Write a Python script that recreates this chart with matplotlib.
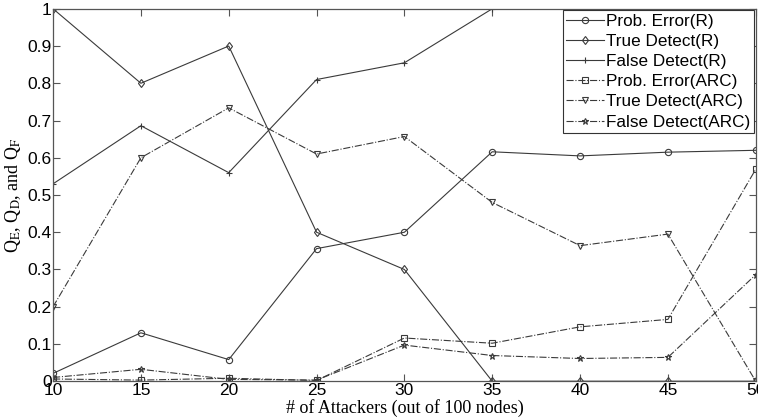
import numpy as np
import matplotlib
matplotlib.use("Agg")
import matplotlib.pyplot as plt
from matplotlib.ticker import FormatStrFormatter

attackers = [10, 15, 20, 25, 30, 35, 40, 45, 50]

# R scheme
prob_err_r = [0.021, 0.13, 0.058, 0.356, 0.40, 0.616, 0.605, 0.615, 0.62]
true_det_r = [1.0, 0.80, 0.90, 0.40, 0.30, 0.0, 0.0, 0.0, 0.0]
false_det_r = [0.53, 0.686, 0.56, 0.81, 0.855, 1.0, np.nan, np.nan, np.nan]

# ARC scheme
prob_err_arc = [0.006, 0.003, 0.008, 0.002, 0.116, 0.102, 0.146, 0.166, 0.569]
true_det_arc = [0.20, 0.60, 0.734, 0.61, 0.657, 0.48, 0.364, 0.395, 0.0]
false_det_arc = [0.010, 0.032, 0.005, 0.003, 0.097, 0.069, 0.061, 0.064, 0.286]

plt.rcParams['font.family'] = ['Liberation Sans', 'DejaVu Sans']
plt.rcParams['mathtext.fontset'] = 'stix'

fig = plt.figure(figsize=(7.58, 4.18), dpi=100)
ax = fig.add_axes([0.070, 0.088, 0.927, 0.891])

lc = '#3a3a3a'
kw = dict(color=lc, linewidth=0.8, markersize=4.5, markerfacecolor='none',
          markeredgecolor=lc, markeredgewidth=0.8)

ax.plot(attackers, prob_err_r, '-', marker='o', label='Prob. Error(R)', **kw)
ax.plot(attackers, true_det_r, '-', marker='d', label='True Detect(R)', **kw)
ax.plot(attackers, false_det_r, '-', marker='+', label='False Detect(R)', **kw)
ax.plot(attackers, prob_err_arc, '-.', marker='s', label='Prob. Error(ARC)', **kw)
ax.plot(attackers, true_det_arc, '-.', marker='v', label='True Detect(ARC)', **kw)
ax.plot(attackers, false_det_arc, '-.', marker='*', label='False Detect(ARC)', **kw)

ax.set_xlim(10, 50)
ax.set_ylim(0, 1)
ax.set_xticks(attackers)
ax.set_yticks(np.arange(0, 1.01, 0.1))
ax.yaxis.set_major_formatter(FormatStrFormatter('%g'))
ax.tick_params(direction='in', top=True, right=True, labelsize=12.5,
               length=5, width=0.8, color='#555555', pad=1)
for s in ax.spines.values():
    s.set_color('#555555')
    s.set_linewidth(0.9)

ax.set_xlabel('# of Attackers (out of 100 nodes)', family='Liberation Serif',
              fontsize=13, labelpad=1)
ax.set_ylabel(r'Q$_\mathrm{E}$, Q$_\mathrm{D}$, and Q$_\mathrm{F}$',
              family='Liberation Serif', fontsize=13, labelpad=3)

leg = ax.legend(loc='upper right', fontsize=12.3, handlelength=2.2,
                handletextpad=0.15, borderpad=0.2, labelspacing=0.3,
                borderaxespad=0.1, fancybox=False, framealpha=1)
leg.get_frame().set_edgecolor('#333333')
leg.get_frame().set_linewidth(0.8)

fig.savefig('out.png', dpi=100)
